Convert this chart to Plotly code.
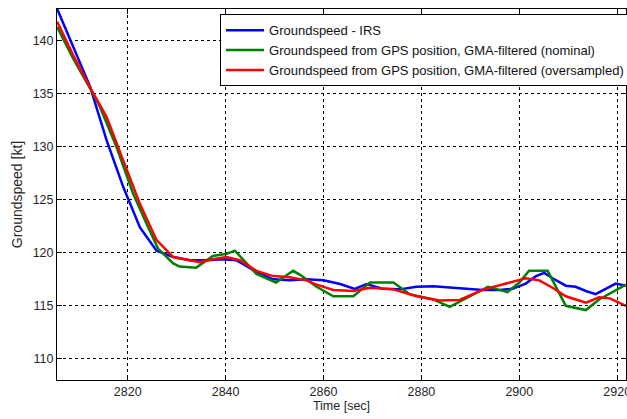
import plotly.graph_objects as go

# Groundspeed - IRS
t_irs = [2805.6, 2808.9, 2812.3, 2815.7, 2819.1, 2822.5, 2825.9, 2829.3, 2832.7, 2836.1,
         2839.5, 2842.2, 2846.3, 2849.7, 2853.1, 2856.5, 2860.0, 2863.4, 2866.4, 2868.8,
         2872.2, 2875.6, 2879.0, 2882.4, 2885.8, 2889.2, 2892.5, 2895.9, 2898.6, 2901.3,
         2903.4, 2905.1, 2906.8, 2909.5, 2911.5, 2913.6, 2915.6, 2917.6, 2919.7, 2921.8]
v_irs = [143.0, 139.4, 135.7, 130.6, 126.2, 122.4, 120.2, 119.6, 119.3, 119.3,
         119.4, 119.3, 118.2, 117.5, 117.4, 117.5, 117.4, 117.05, 116.6, 117.05,
         116.6, 116.55, 116.8, 116.85, 116.7, 116.6, 116.5, 116.5, 116.6, 117.1,
         117.8, 118.1, 117.6, 116.9, 116.8, 116.4, 116.1, 116.6, 117.1, 116.9]

# Groundspeed from GPS position, GMA-filtered (nominal)
t_nom = [2805.6, 2808.9, 2812.3, 2814.3, 2817.7, 2821.1, 2823.9, 2826.2, 2829.3, 2830.6,
         2834.0, 2837.4, 2840.2, 2841.9, 2844.3, 2846.3, 2850.3, 2853.8, 2855.3, 2858.6,
         2862.0, 2866.1, 2869.5, 2874.3, 2877.6, 2882.4, 2885.8, 2889.2, 2893.6, 2895.9,
         2897.6, 2900.0, 2902.0, 2905.8, 2909.5, 2913.6, 2916.3, 2921.8]
v_nom = [141.3, 138.3, 135.5, 133.8, 130.0, 125.6, 122.7, 120.4, 119.0, 118.7,
         118.6, 119.7, 119.9, 120.2, 119.0, 118.0, 117.2, 118.3, 117.9, 116.8,
         115.9, 115.9, 117.2, 117.2, 116.1, 115.6, 114.9, 115.7, 116.8, 116.5,
         116.3, 117.2, 118.3, 118.3, 115.0, 114.6, 115.6, 117.0]

# Groundspeed from GPS position, GMA-filtered (oversampled)
t_ovs = [2805.6, 2808.9, 2812.3, 2815.7, 2819.1, 2822.5, 2825.9, 2829.3, 2832.7, 2834.7,
         2837.4, 2840.2, 2842.9, 2846.3, 2849.7, 2853.1, 2856.5, 2858.6, 2862.0, 2866.1,
         2869.5, 2874.3, 2879.0, 2883.7, 2887.8, 2892.5, 2897.3, 2901.3, 2904.1, 2906.8,
         2909.5, 2913.6, 2916.3, 2918.5, 2921.8]
v_ovs = [141.8, 138.6, 135.6, 132.8, 128.7, 124.6, 121.2, 119.6, 119.3, 119.1,
         119.4, 119.6, 119.3, 118.3, 117.8, 117.7, 117.4, 117.0, 116.5, 116.4,
         116.7, 116.55, 115.9, 115.5, 115.55, 116.5, 117.1, 117.6, 117.4, 116.7,
         115.9, 115.3, 115.8, 115.7, 115.0]

x_ticks = [2820, 2840, 2860, 2880, 2900, 2920]
y_ticks = [110, 115, 120, 125, 130, 135, 140]

names = ["Groundspeed - IRS",
         "Groundspeed from GPS position, GMA-filtered (nominal)",
         "Groundspeed from GPS position, GMA-filtered (oversampled)"]
colors = ["#0000FF", "#008000", "#FF0000"]

fig = go.Figure()
for t, v, n, c in zip([t_irs, t_nom, t_ovs], [v_irs, v_nom, v_ovs], names, colors):
    fig.add_trace(go.Scatter(x=t, y=v, mode="lines", name=n,
                             line=dict(color=c, width=2.5)))

font_family = "Liberation Sans, Arial, sans-serif"
axis_common = dict(
    showline=True, linecolor="black", linewidth=1, mirror="ticks",
    ticks="inside", ticklen=5, tickcolor="black",
    showgrid=True, gridcolor="black", gridwidth=1, griddash="3px,3px",
    zeroline=False, tickfont=dict(family=font_family, size=12.5, color="#262626"),
    ticklabeloverflow="allow",
)

fig.update_xaxes(range=[2805.56, 2921.8], tickvals=x_ticks,
                 title=dict(text="Time [sec]", standoff=2,
                            font=dict(family=font_family, size=12.5, color="#262626")),
                 **axis_common)
fig.update_yaxes(range=[108, 143], tickvals=y_ticks,
                 title=dict(text="Groundspeed [kt]", standoff=6,
                            font=dict(family=font_family, size=14, color="#262626")),
                 **axis_common)

fig.update_layout(
    width=627, height=419,
    margin=dict(l=57, r=1, t=9, b=39, autoexpand=False),
    plot_bgcolor="white", paper_bgcolor="white",
    font=dict(family=font_family, size=12, color="#262626"),
    legend=dict(x=0.2865, y=0.986, xanchor="left", yanchor="top",
                bgcolor="white", bordercolor="black", borderwidth=1,
                font=dict(family=font_family, size=13.0, color="#111"),
                itemwidth=38, tracegroupgap=0),
)

fig.write_html("out.html", config={"displayModeBar": False},
               post_script="document.body.style.margin='0';document.body.style.padding='0';")
